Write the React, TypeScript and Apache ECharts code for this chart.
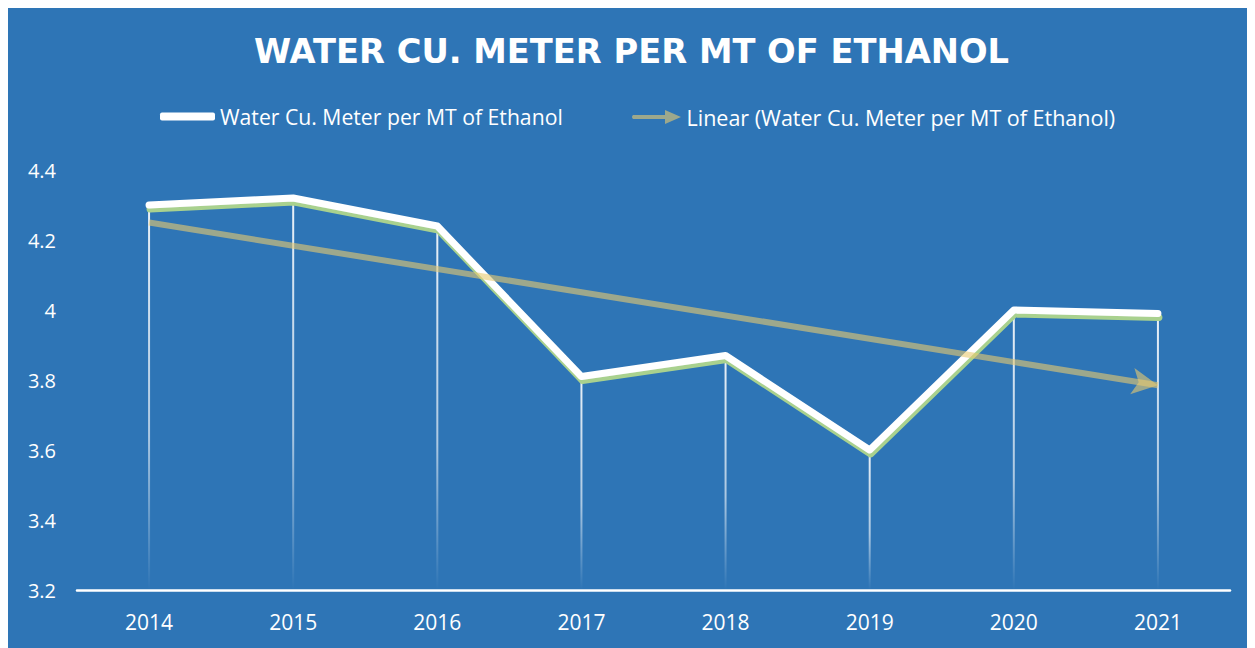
import React, { useEffect, useRef } from "react";
import * as echarts from "echarts";

const years = ["2014", "2015", "2016", "2017", "2018", "2019", "2020", "2021"];
const waterPerMT = [4.3, 4.32, 4.24, 3.81, 3.87, 3.6, 4.0, 3.99];
const trendStart = 4.25;
const trendEnd = 3.785;
const yTicks = { min: 3.2, max: 4.4, interval: 0.2 };
const seriesName = "Water Cu. Meter per MT of Ethanol";
const trendName = "Linear (Water Cu. Meter per MT of Ethanol)";
const titleText = "WATER CU. METER PER MT OF ETHANOL";

const BG = "#2E75B6";
const TREND = "rgba(231,202,112,0.6)";
const FONT = "'Open Sans', 'Noto Sans', sans-serif";

export default function App() {
  const ref = useRef<HTMLDivElement>(null);
  useEffect(() => {
    if (!ref.current) return;
    const chart = echarts.init(ref.current, undefined, { renderer: "svg" });
    chart.setOption({
      animation: false,
      backgroundColor: BG,
      title: {
        text: titleText,
        left: "center",
        top: 21,
        textStyle: { color: "#fff", fontSize: 33.7, fontWeight: "bold", fontFamily: "'DejaVu Sans', sans-serif" },
      },
      legend: [
        {
          data: [{ name: seriesName, icon: "roundRect" }],
          left: 147,
          top: 93,
          itemWidth: 55,
          itemHeight: 8,
          textStyle: { color: "#fff", fontSize: 21.2, fontFamily: FONT },
          selectedMode: false,
        },
        {
          data: [{ name: trendName, icon: "path://M2,5 L34,5 L34,0 L50,7 L34,14 L34,9 L2,9 Q0,7 2,5 Z" }],
          left: 619,
          top: 93,
          itemWidth: 50,
          itemHeight: 14,
          textStyle: { color: "#fff", fontSize: 21.5, fontFamily: FONT },
          selectedMode: false,
        },
      ],
      grid: { left: 69, right: 25, top: 162, bottom: 58 },
      xAxis: {
        type: "category",
        data: years,
        boundaryGap: true,
        axisLine: { lineStyle: { color: "#fff", width: 2.5 } },
        axisTick: { show: false },
        axisLabel: { color: "#fff", fontSize: 21, fontFamily: FONT, margin: 21 },
        splitLine: { show: false },
      },
      yAxis: {
        type: "value",
        min: yTicks.min,
        max: yTicks.max,
        interval: yTicks.interval,
        axisLine: { show: false },
        axisTick: { show: false },
        splitLine: { show: false },
        axisLabel: {
          color: "#fff",
          fontSize: 20,
          fontFamily: FONT,
          margin: 21,
          formatter: (v: number) => String(Math.round(v * 10) / 10),
        },
      },
      series: [
        {
          type: "bar",
          data: waterPerMT,
          barWidth: 2,
          silent: true,
          z: 1,
          itemStyle: {
            color: {
              type: "linear",
              x: 0,
              y: 0,
              x2: 0,
              y2: 1,
              colorStops: [
                { offset: 0, color: "rgba(255,255,255,0.9)" },
                { offset: 0.6, color: "rgba(255,255,255,0.6)" },
                { offset: 1, color: "rgba(255,255,255,0)" },
              ],
            },
          },
        },
        {
          name: seriesName,
          type: "line",
          data: waterPerMT,
          showSymbol: false,
          symbol: "none",
          z: 3,
          color: "#fff",
          lineStyle: {
            color: "#fff",
            width: 7,
            cap: "round",
            join: "round",
            shadowColor: "#A9D18E",
            shadowOffsetY: 4,
            shadowOffsetX: 1,
            shadowBlur: 0,
          },
        },
        {
          name: trendName,
          type: "line",
          data: [],
          z: 4,
          color: TREND,
          itemStyle: { color: TREND },
          lineStyle: { color: TREND },
          markLine: {
            silent: true,
            symbol: ["none", "arrow"],
            symbolSize: [20, 26],
            label: { show: false },
            lineStyle: { color: TREND, width: 6, type: "solid" },
            data: [[{ coord: [0, trendStart] }, { coord: [7, trendEnd] }]],
          },
        },
      ],
    });
    return () => chart.dispose();
  }, []);
  return <div ref={ref} style={{ width: 1247, height: 640 }} />;
}
